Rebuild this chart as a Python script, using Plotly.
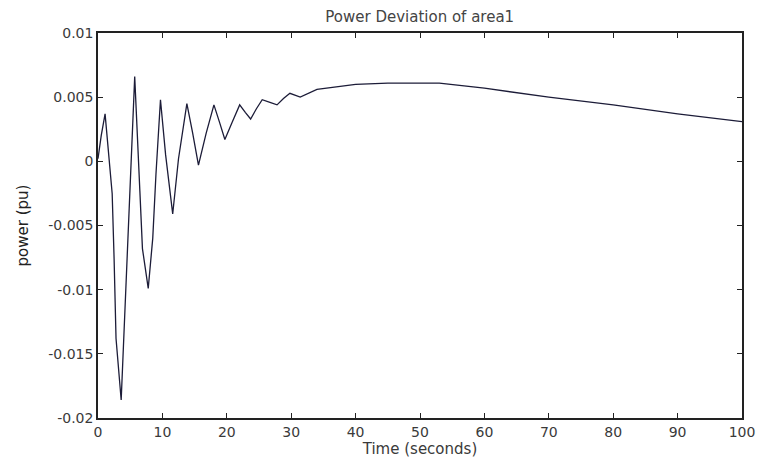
import plotly.graph_objects as go

# Data
time_s = [0, 0.5, 1.1, 2.2, 2.5, 2.8, 3.6, 4.0, 4.5, 5.0, 5.7, 6.5, 6.9, 7.8,
          8.5, 9.0, 9.7, 10.5, 11.6, 12.5, 13.8, 14.7, 15.6, 16.8, 18.0, 18.9,
          19.7, 20.8, 22.0, 22.9, 23.7, 24.6, 25.5, 26.7, 27.8, 28.8, 29.8,
          31.4, 34, 37, 40, 45, 50, 53, 60, 70, 80, 90, 100]
power_pu = [0.0002, 0.0020, 0.0037, -0.0025, -0.0076, -0.0138, -0.0186,
            -0.0138, -0.0076, -0.0023, 0.0066, -0.0023, -0.0068, -0.0099,
            -0.0060, -0.0010, 0.0048, 0.0005, -0.0041, 0.0002, 0.0045, 0.0022,
            -0.0003, 0.0022, 0.0044, 0.0030, 0.0017, 0.0030, 0.0044, 0.0038,
            0.0033, 0.0041, 0.0048, 0.0046, 0.0044, 0.0049, 0.0053, 0.0050,
            0.0056, 0.0058, 0.0060, 0.0061, 0.0061, 0.0061, 0.0057, 0.0050,
            0.0044, 0.0037, 0.0031]

x_ticks = [0, 10, 20, 30, 40, 50, 60, 70, 80, 90, 100]
y_ticks = [0.01, 0.005, 0, -0.005, -0.01, -0.015, -0.02]
y_tick_text = ["0.01", "0.005", "0", "-0.005", "-0.01", "-0.015", "-0.02"]

fig = go.Figure()
fig.add_trace(go.Scatter(x=time_s, y=power_pu, mode="lines",
                         line=dict(color="#1c1c38", width=1.3),
                         showlegend=False))

font = dict(family="DejaVu Sans, sans-serif", size=14, color="#3a3a3a")

fig.update_layout(
    template="none",
    width=759, height=462,
    margin=dict(l=98, r=17, t=33, b=44),
    paper_bgcolor="white", plot_bgcolor="white",
    font=font,
    title=dict(text="Power Deviation of area1", x=0.553, xanchor="center",
               xref="container", yref="container",
               y=1 - 17 / 462, yanchor="middle",
               font=dict(size=15, color="#444444")),
)
fig.update_xaxes(range=[0, 100], tickvals=x_ticks, ticks="inside", ticklen=5,
                 tickcolor="#222222",
                 showline=True, linecolor="#222222", linewidth=1.5, mirror="ticks",
                 showgrid=False, zeroline=False, automargin=False,
                 title=dict(text="Time (seconds)", standoff=4, font=dict(size=15)))
fig.update_yaxes(range=[-0.02, 0.01], tickvals=y_ticks, ticktext=y_tick_text,
                 ticks="inside", ticklen=5, tickcolor="#222222",
                 showline=True, linecolor="#222222", linewidth=1.5, mirror="ticks",
                 showgrid=False, zeroline=False, automargin=False,
                 title=dict(text="power (pu)", standoff=16,
                            font=dict(size=15, color="#222222")))

fig.write_html("out.html", config={"displayModeBar": False},
               post_script="document.body.style.margin='0';")
